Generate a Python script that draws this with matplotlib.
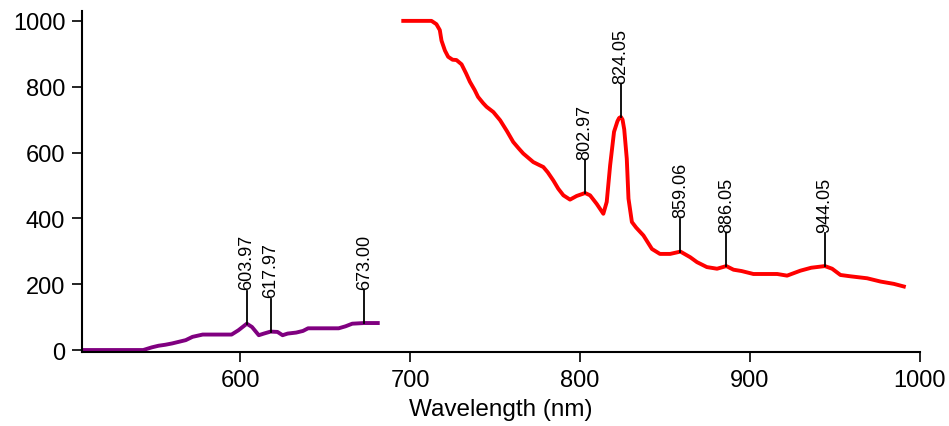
import matplotlib
matplotlib.use("Agg")
import matplotlib.pyplot as plt

plt.rcParams['font.family'] = ['Liberation Sans', 'DejaVu Sans']

# Purple series (visible range)
wl_purple = [507, 543, 548, 552, 556, 560, 564, 568, 572, 578, 595, 599, 603.97, 607,
             611, 614, 617.97, 622, 625, 628, 633, 637, 640, 658, 662, 666, 673, 681]
val_purple = [0, 0, 8, 13, 16, 20, 25, 30, 40, 47, 47, 60, 80, 70,
              45, 50, 56, 55, 45, 50, 53, 58, 66, 66, 72, 80, 82, 82]

# Red series (NIR range)
wl_red = [696, 712.6, 715.5, 717.5, 718.5, 720.5, 722.4, 725, 727.3, 730.3, 733, 735.2,
          738, 740, 743, 745, 749, 753, 757, 760.7, 764, 766.6, 770, 772.5, 776, 778.4,
          781, 784.3, 787.2, 790.2, 794.1, 798, 802.97, 805.9, 809.8, 813.7, 815.7,
          817.7, 820, 822, 823, 824.05, 825, 826, 827.5, 828.5, 830.5, 833, 837.3, 842.3, 847,
          853, 859.06, 864.8, 868.8, 874.6, 880.6, 886.05, 890.3, 895, 902, 916, 921.8,
          929.6, 936, 944.05, 948.3, 953.2, 959, 968.9, 976.8, 984.6, 990.5]
val_red = [1000, 1000, 990, 972, 940, 910, 891, 882, 881, 868, 840, 815,
           790, 769, 750, 739, 723, 698, 665, 632, 612, 597, 582, 571, 562, 556,
           540, 515, 490, 470, 457, 468, 477, 470, 444, 414, 450,
           561, 663, 695, 705, 708, 700, 670, 581, 460, 389, 372, 348, 307, 292,
           292, 299, 282, 267, 252, 247, 255, 244, 240, 231, 231, 226,
           241, 250, 255, 247, 228, 224, 218, 208, 201, 193]

# Peak labels
peak_wl = [603.97, 617.97, 673.00, 802.97, 824.05, 859.06, 886.05, 944.05]
peak_val = [80, 56, 82, 477, 708, 299, 255, 255]
peak_labels = ["603.97", "617.97", "673.00", "802.97", "824.05", "859.06", "886.05", "944.05"]
stem_len = 100

fig = plt.figure(figsize=(9.49, 4.27), dpi=100)
ax = fig.add_axes([82/949, (427-353)/427, (920-82)/949, (353-12)/427])

ax.plot(wl_purple, val_purple, color='#800080', lw=2.8, solid_joinstyle='round')
ax.plot(wl_red, val_red, color='#FF0000', lw=2.8, solid_joinstyle='round')

for w, v, lab in zip(peak_wl, peak_val, peak_labels):
    ax.plot([w, w], [v, v + stem_len], color='black', lw=1.3)
    ax.text(w, v + stem_len + 4, lab, rotation=90, ha='center', va='bottom',
            fontsize=13, color='black')

ax.set_xlim(507, 1000)
ax.set_ylim(-6, 1030)
ax.set_xticks([600, 700, 800, 900, 1000])
ax.set_yticks([0, 200, 400, 600, 800, 1000])
ax.spines['top'].set_visible(False)
ax.spines['right'].set_visible(False)
for s in ['left', 'bottom']:
    ax.spines[s].set_linewidth(1.5)
ax.tick_params(axis='both', labelsize=17, width=1.2, length=7, direction='out', pad=5)
ax.set_xlabel("Wavelength (nm)", fontsize=17.5, labelpad=5)

fig.savefig("out.png", dpi=100)
